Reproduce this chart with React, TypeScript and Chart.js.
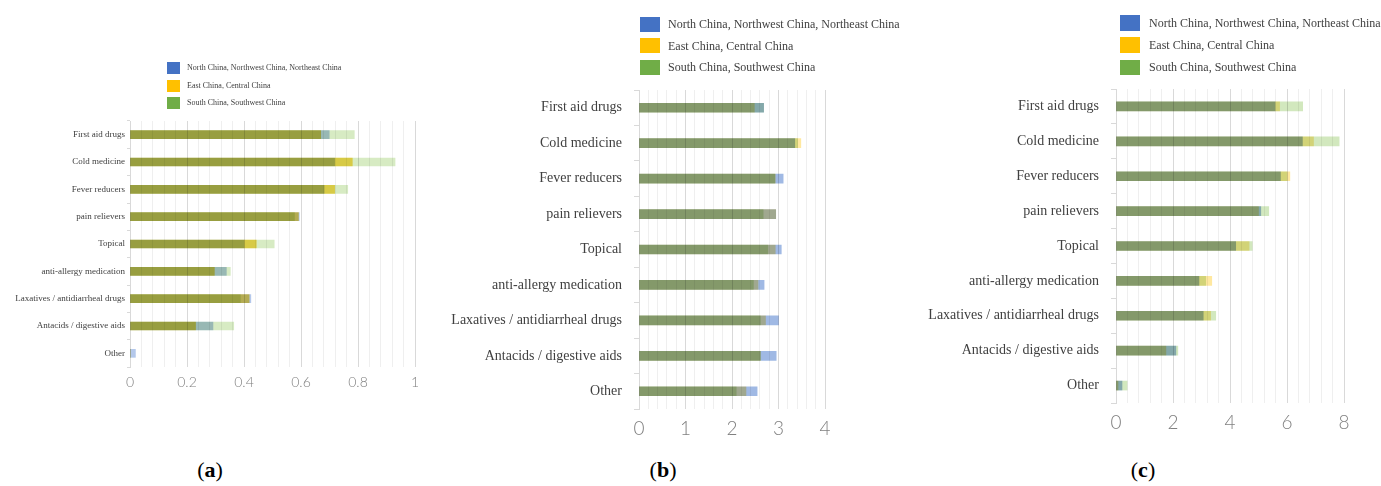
import React, { useEffect, useRef } from 'react';
import { Chart, registerables } from 'chart.js';
Chart.register(...registerables);

const categories = [
  'First aid drugs',
  'Cold medicine',
  'Fever reducers',
  'pain relievers',
  'Topical',
  'anti-allergy medication',
  'Laxatives / antidiarrheal drugs',
  'Antacids / digestive aids',
  'Other',
];
const seriesNames = [
  'North China, Northwest China, Northeast China',
  'East China, Central China',
  'South China, Southwest China',
];
const legendColors = ['#4472C4', '#FFC000', '#70AD47'];

// panel (a)
const aNorth = [0.699, 0.718, 0.681, 0.594, 0.40, 0.338, 0.424, 0.291, 0.019];
const aEast = [0.669, 0.780, 0.718, 0.591, 0.443, 0.296, 0.418, 0.230, 0];
const aSouth = [0.787, 0.930, 0.764, 0.577, 0.506, 0.352, 0.387, 0.364, 0];
// panel (b)
const bNorth = [2.68, 3.35, 3.10, 2.94, 3.06, 2.69, 3.00, 2.95, 2.54];
const bEast = [2.48, 3.48, 2.93, 2.94, 2.93, 2.56, 2.72, 2.61, 2.30];
const bSouth = [2.68, 3.41, 2.92, 2.67, 2.77, 2.46, 2.61, 2.61, 2.09];
// panel (c)
const cNorth = [5.58, 6.54, 5.77, 5.08, 4.20, 2.91, 3.06, 2.10, 0.21];
const cEast = [5.74, 6.93, 6.10, 5.00, 4.67, 3.36, 3.32, 1.75, 0.07];
const cSouth = [6.55, 7.83, 6.00, 5.36, 4.78, 3.15, 3.50, 2.17, 0.39];

const aAxis = { max: 1, minor: 0.04, major: 0.2 };
const bAxis = { max: 4, minor: 0.2, major: 1 };
const cAxis = { max: 8, minor: 0.4, major: 2 };

const SERIF = '"Liberation Serif", "Times New Roman", serif';
const SANS = 'Lato, "Noto Sans", sans-serif';

type Panel = {
  key: string;
  left: number;
  width: number;
  height: number;
  yW: number;
  padTop: number;
  padRight: number;
  xH: number;
  axis: { max: number; minor: number; major: number };
  data: number[][];
  barColors: string[];
  barThickness: number;
  catFont: number;
  catPad: number;
  tickLen: number;
  xFont: number;
  xPad: number;
  legend: { x: number; y0: number; dy: number; bw: number; bh: number; font: number; gap: number };
  caption: string;
  capX: number;
};

const panels: Panel[] = [
  {
    key: 'a', left: 0, width: 440, height: 410, yW: 130, padTop: 121, padRight: 25, xH: 43,
    axis: aAxis, data: [aNorth, aEast, aSouth],
    barColors: ['#b4c8eb', '#ffdc5a', '#d7ebc3'], barThickness: 8,
    catFont: 9, catPad: 2, tickLen: 3, xFont: 14, xPad: 7,
    legend: { x: 167, y0: 68, dy: 17.7, bw: 13, bh: 12, font: 8, gap: 7 },
    caption: 'a', capX: 210,
  },
  {
    key: 'b', left: 440, width: 480, height: 450, yW: 199, padTop: 90, padRight: 95, xH: 41,
    axis: bAxis, data: [bNorth, bEast, bSouth],
    barColors: ['#a0b9e4', '#ffe8a0', '#d2e8be'], barThickness: 9,
    catFont: 14, catPad: 12, tickLen: 5, xFont: 19, xPad: 8,
    legend: { x: 640, y0: 24, dy: 21.6, bw: 20, bh: 15, font: 12, gap: 8 },
    caption: 'b', capX: 663,
  },
  {
    key: 'c', left: 920, width: 461, height: 450, yW: 196, padTop: 89, padRight: 37, xH: 47,
    axis: cAxis, data: [cNorth, cEast, cSouth],
    barColors: ['#a0b9e4', '#ffe8a0', '#d2e8be'], barThickness: 9,
    catFont: 14, catPad: 12, tickLen: 5, xFont: 19, xPad: 8,
    legend: { x: 1120, y0: 23, dy: 22.2, bw: 20, bh: 15.5, font: 12, gap: 9 },
    caption: 'c', capX: 1143,
  },
];

const multiplyPlugin = {
  id: 'multiplyBars',
  beforeDatasetsDraw(chart: any) {
    chart.ctx.save();
    chart.ctx.globalCompositeOperation = 'multiply';
  },
  afterDatasetsDraw(chart: any) {
    chart.ctx.restore();
  },
};

function isMajor(v: number, major: number) {
  const r = v / major;
  return Math.abs(r - Math.round(r)) < 1e-6;
}

function PanelChart({ p }: { p: Panel }) {
  const ref = useRef<HTMLCanvasElement | null>(null);
  useEffect(() => {
    if (!ref.current) return;
    const chart = new Chart(ref.current, {
      type: 'bar',
      data: {
        labels: categories,
        datasets: seriesNames.map((name, i) => ({
          label: name,
          data: p.data[i],
          backgroundColor: p.barColors[i],
          borderWidth: 0,
          barThickness: p.barThickness,
          grouped: false,
        })),
      },
      options: {
        indexAxis: 'y',
        responsive: false,
        animation: false,
        events: [],
        layout: { padding: { top: p.padTop, right: p.padRight, left: 0, bottom: 0 } },
        plugins: { legend: { display: false }, tooltip: { enabled: false } },
        scales: {
          x: {
            type: 'linear',
            min: 0,
            max: p.axis.max,
            border: { display: false },
            grid: {
              drawTicks: false,
              lineWidth: 1,
              color: (ctx: any) =>
                ctx.tick && isMajor(ctx.tick.value, p.axis.major) ? '#d9d9d9' : '#efefef',
            },
            ticks: {
              stepSize: p.axis.minor,
              autoSkip: false,
              maxRotation: 0,
              padding: p.xPad,
              color: '#808080',
              font: { family: SANS, size: p.xFont, weight: '300' as any },
              callback: (v: any) =>
                isMajor(Number(v), p.axis.major) ? String(parseFloat(Number(v).toFixed(2))) : '',
            },
            afterFit: (s: any) => {
              s.height = p.xH;
            },
          },
          y: {
            type: 'category',
            border: { display: true, color: '#d9d9d9' },
            grid: {
              drawOnChartArea: false,
              drawTicks: true,
              tickLength: p.tickLen,
              color: '#d9d9d9',
              offset: true,
            },
            ticks: {
              autoSkip: false,
              padding: p.catPad,
              color: '#404040',
              font: { family: SERIF, size: p.catFont },
            },
            afterFit: (s: any) => {
              s.width = p.yW;
            },
          },
        },
      },
      plugins: [multiplyPlugin],
    } as any);
    return () => chart.destroy();
  }, [p]);
  return (
    <canvas
      ref={ref}
      width={p.width}
      height={p.height}
      style={{ position: 'absolute', left: p.left, top: 0, width: p.width, height: p.height }}
    />
  );
}

function Legend({ p }: { p: Panel }) {
  const L = p.legend;
  return (
    <>
      {seriesNames.map((name, i) => (
        <div
          key={name}
          style={{
            position: 'absolute',
            left: L.x,
            top: L.y0 + i * L.dy - L.bh / 2,
            height: L.bh,
            display: 'flex',
            alignItems: 'center',
            whiteSpace: 'nowrap',
          }}
        >
          <div style={{ width: L.bw, height: L.bh, background: legendColors[i], flex: 'none' }} />
          <span
            style={{
              marginLeft: L.gap,
              fontFamily: SERIF,
              fontSize: L.font,
              color: '#404040',
              lineHeight: 1,
            }}
          >
            {name}
          </span>
        </div>
      ))}
    </>
  );
}

export default function App() {
  return (
    <div
      style={{
        position: 'absolute',
        left: 0,
        top: 0,
        width: 1381,
        height: 486,
        overflow: 'hidden',
        background: '#ffffff',
      }}
    >
      {panels.map((p) => (
        <React.Fragment key={p.key}>
          <PanelChart p={p} />
          <Legend p={p} />
          <div
            style={{
              position: 'absolute',
              left: p.capX - 40,
              width: 80,
              top: 457,
              textAlign: 'center',
              fontFamily: SERIF,
              fontSize: 22,
              color: '#000',
              lineHeight: '26px',
            }}
          >
            (<b>{p.caption}</b>)
          </div>
        </React.Fragment>
      ))}
    </div>
  );
}
